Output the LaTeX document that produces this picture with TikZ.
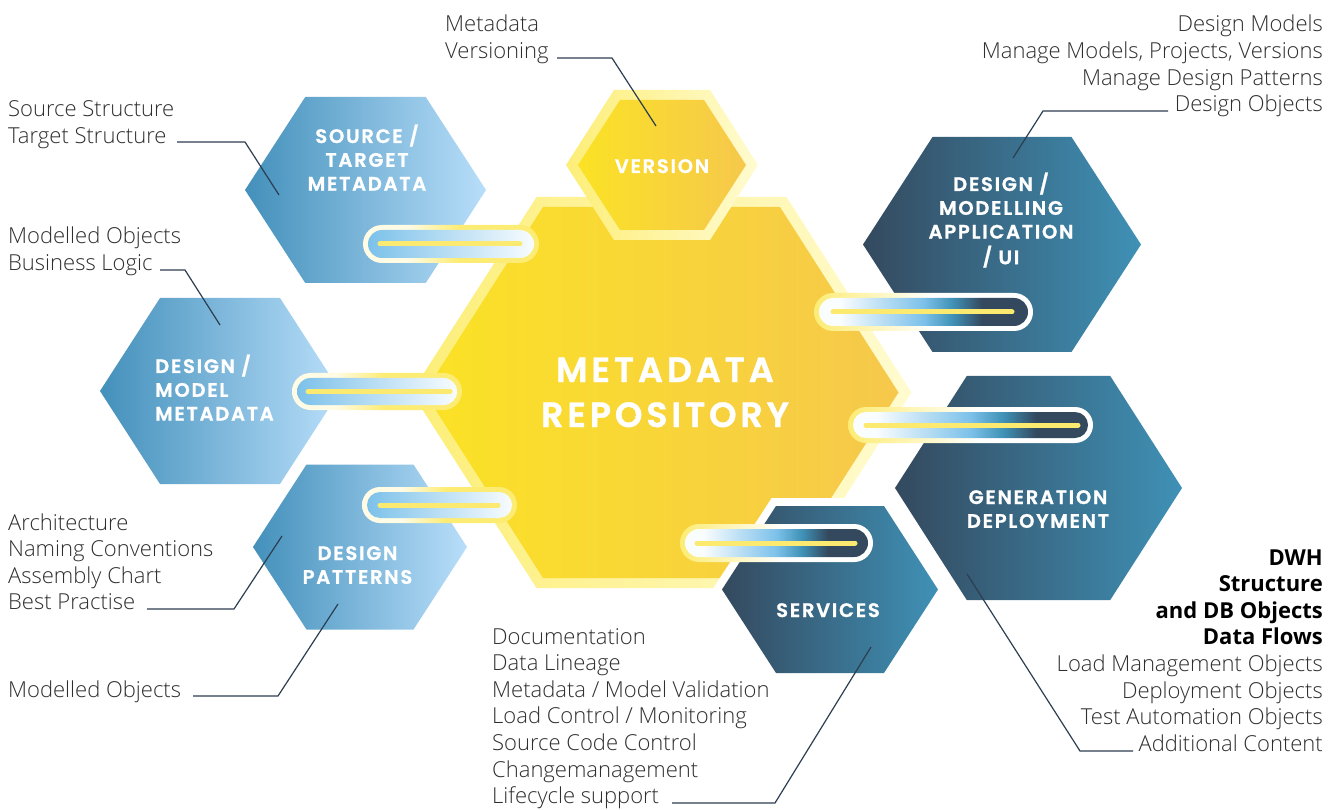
\documentclass[tikz,border=0pt]{standalone}
\usepackage{fontspec}
\IfFontExistsTF{Open Sans Light}{\setmainfont{Open Sans Light}}{\setmainfont{Open Sans}}
\newfontfamily\boldsans{Open Sans}
\IfFontExistsTF{Poppins SemiBold}{%
  \newfontfamily\hexfont{Poppins SemiBold}[LetterSpace=9, FakeBold=1.2]%
  \newfontfamily\bighexfont{Poppins SemiBold}[LetterSpace=11, FakeBold=1.2]}{%
  \newfontfamily\hexfont{Poppins}[LetterSpace=9, FakeBold=1.8]%
  \newfontfamily\bighexfont{Poppins}[LetterSpace=11, FakeBold=1.8]}
\definecolor{txtgray}{HTML}{2E2E2E}
\definecolor{leadc}{HTML}{2C3E50}
\definecolor{hexnavy}{HTML}{34495E}
\definecolor{hexteal}{HTML}{3F91B6}
\definecolor{lbdark}{HTML}{4390BB}
\definecolor{lblight}{HTML}{B8DEFA}
\definecolor{pillblue}{HTML}{7CC1EA}
\definecolor{pillline}{HTML}{FBE970}
\definecolor{ybordL}{HTML}{FDEE78}
\definecolor{ybordR}{HTML}{FFFBD0}
\definecolor{yfillL}{HTML}{FBE225}
\definecolor{yfillR}{HTML}{F6C84C}
\definecolor{cream}{HTML}{FFFBE4}
\definecolor{pyel}{HTML}{FDEC74}
\pgfdeclarehorizontalshading{pillRfill}{100bp}{color(0bp)=(white!96!pillblue); color(30bp)=(white!96!pillblue); color(50bp)=(pillblue); color(57bp)=(hexteal); color(64bp)=(hexnavy); color(100bp)=(hexnavy)}
\pgfdeclarehorizontalshading{pillRbord}{100bp}{color(0bp)=(pyel); color(25bp)=(pyel); color(52bp)=(white); color(100bp)=(white)}
\pgfdeclarehorizontalshading{pillLbord}{100bp}{color(0bp)=(cream); color(38bp)=(cream); color(52bp)=(pyel); color(100bp)=(pyel)}
\newcommand{\hexa}[4]{({#1-#3},{#2}) -- ({#1-#3/2},{#2-#4}) -- ({#1+#3/2},{#2-#4}) -- ({#1+#3},{#2}) -- ({#1+#3/2},{#2+#4}) -- ({#1-#3/2},{#2+#4}) -- cycle}
\tikzset{
  lbl/.style={font=\fontsize{22}{26.6}\selectfont, text=txtgray, inner sep=0pt},
  hexlbl/.style={font=\hexfont\fontsize{19.5}{23.8}\selectfont, text=white, inner sep=0pt},
  biglbl/.style={font=\bighexfont\fontsize{35}{45}\selectfont, text=white, inner sep=0pt},
  leader/.style={draw=leadc, line width=1.2pt},
  lightblue/.style={left color=lbdark, right color=lblight},
  darkhex/.style={left color=hexnavy, right color=hexteal},
  whitering/.style={draw=white, line width=16pt, line join=miter, fill=white},
  pilline/.style={draw=pillline, line width=5pt, line cap=round},
}
\begin{document}
\begin{tikzpicture}[x=1pt,y=-1pt]
\useasboundingbox (0,0) rectangle (1342,810);
% central hexagon
\shade[left color=ybordL, right color=ybordR] \hexa{661.5}{392.5}{250}{195.5};
\shade[left color=yfillL, right color=yfillR] \hexa{661.5}{392.5}{237}{185.5};
% version hexagon
\shade[left color=ybordL, right color=ybordR] \hexa{662}{165}{96}{75};
\shade[left color=yfillL, right color=yfillR] \hexa{662}{165}{84}{65};
% light blue hexagons
\path[whitering] \hexa{365.5}{190}{120.5}{93};
\shade[lightblue] \hexa{365.5}{190}{120.5}{93};
\path[whitering] \hexa{220}{391}{120}{93};
\shade[lightblue] \hexa{220}{391}{120}{93};
\path[whitering] \hexa{360}{547}{107}{82.5};
\shade[lightblue] \hexa{360}{547}{107}{82.5};
% dark hexagons
\path[whitering] \hexa{1002}{244.5}{139}{107.5};
\shade[darkhex] \hexa{1002}{244.5}{139}{107.5};
\path[whitering] \hexa{1038.5}{488}{143.5}{112};
\shade[darkhex] \hexa{1038.5}{488}{143.5}{112};
\path[whitering] \hexa{830}{589.5}{108}{83.5};
\shade[darkhex] \hexa{830}{589.5}{108}{83.5};
% pills left
\shade[shading=pillLbord, rounded corners=19pt] (363,225) rectangle (539,263);
\shade[left color=pillblue, right color=white!95!pillblue, rounded corners=14pt] (368,230) rectangle (534,258);
\coordinate (p1a) at (380,244); \coordinate (p1b) at (520,244);
\draw[pilline] (p1a) -- (p1b);
\shade[shading=pillLbord, rounded corners=18.5pt] (292,373) rectangle (462,410);
\shade[left color=pillblue, right color=white!95!pillblue, rounded corners=13.5pt] (297,378) rectangle (457,405);
\coordinate (p2a) at (308,391.5); \coordinate (p2b) at (450,391.5);
\draw[pilline] (p2a) -- (p2b);
\shade[shading=pillLbord, rounded corners=18pt] (362,487) rectangle (517,523);
\shade[left color=pillblue, right color=white!95!pillblue, rounded corners=13pt] (367,492) rectangle (512,518);
\coordinate (p3a) at (380,505); \coordinate (p3b) at (498,505);
\draw[pilline] (p3a) -- (p3b);
% pills right
\shade[shading=pillRbord, rounded corners=19pt] (814,293) rectangle (1033,331);
\shade[shading=pillRfill, rounded corners=14pt] (819,298) rectangle (1028,326);
\coordinate (p4a) at (833,312); \coordinate (p4b) at (1012,312);
\draw[pilline] (p4a) -- (p4b);
\shade[shading=pillRbord, rounded corners=18pt] (848,407) rectangle (1093,443);
\shade[shading=pillRfill, rounded corners=13pt] (853,412) rectangle (1088,438);
\coordinate (p5a) at (866,425); \coordinate (p5b) at (1078,425);
\draw[pilline] (p5a) -- (p5b);
\shade[shading=pillRbord, rounded corners=19pt] (680,524) rectangle (873,562);
\shade[shading=pillRfill, rounded corners=14pt] (685,529) rectangle (868,557);
\coordinate (p6a) at (697,543); \coordinate (p6b) at (855,543);
\draw[pilline] (p6a) -- (p6b);
% hexagon labels
\node[biglbl, anchor=base] (repo) at (665,382) {\begin{tabular}[t]{@{}c@{}}METADATA\\REPOSITORY\end{tabular}};
\node[hexlbl, anchor=base] (version) at (662,173) {VERSION};
\node[hexlbl, anchor=base] (srctgt) at (367,143) {\begin{tabular}[t]{@{}c@{}}SOURCE /\\TARGET\\METADATA\end{tabular}};
\node[hexlbl, anchor=base west] (dmm) at (155,373) {\begin{tabular}[t]{@{}l@{}}DESIGN /\\MODEL\\METADATA\end{tabular}};
\node[hexlbl, anchor=base] (dpat) at (357.5,560) {\begin{tabular}[t]{@{}c@{}}DESIGN\\PATTERNS\end{tabular}};
\node[hexlbl, anchor=base] (dmapp) at (1001,191) {\begin{tabular}[t]{@{}c@{}}DESIGN /\\MODELLING\\APPLICATION\\/ UI\end{tabular}};
\node[hexlbl, anchor=base] (gendep) at (1038,504) {\begin{tabular}[t]{@{}c@{}}GENERATION\\DEPLOYMENT\end{tabular}};
\node[hexlbl, anchor=base] (services) at (828,617) {SERVICES};
% text labels
\node[lbl, anchor=base west] (t1) at (8,117) {\begin{tabular}[t]{@{}l@{}}Source Structure\\Target Structure\end{tabular}};
\node[lbl, anchor=base west] (t2) at (445,32) {\begin{tabular}[t]{@{}l@{}}Metadata\\Versioning\end{tabular}};
\node[lbl, anchor=base east] (t3) at (1323,32) {\begin{tabular}[t]{@{}r@{}}Design Models\\Manage Models, Projects, Versions\\Manage Design Patterns\\Design Objects\end{tabular}};
\node[lbl, anchor=base west] (t4) at (8,244) {\begin{tabular}[t]{@{}l@{}}Modelled Objects\\Business Logic\end{tabular}};
\node[lbl, anchor=base west] (t5) at (8,530) {\begin{tabular}[t]{@{}l@{}}Architecture\\Naming Conventions\\Assembly Chart\\Best Practise\end{tabular}};
\node[lbl, anchor=base west] (t6) at (8,697) {Modelled Objects};
\node[lbl, anchor=base west] (t7) at (492,644) {\begin{tabular}[t]{@{}l@{}}Documentation\\Data Lineage\\Metadata / Model Validation\\Load Control / Monitoring\\Source Code Control\\Changemanagement\\Lifecycle support\end{tabular}};
\node[lbl, anchor=base east] (t8) at (1323,565) {\begin{tabular}[t]{@{}r@{}}{\boldsans\bfseries\color{black} DWH}\\{\boldsans\bfseries\color{black} Structure}\\{\boldsans\bfseries\color{black} and DB Objects}\\{\boldsans\bfseries\color{black} Data Flows}\\Load Management Objects\\Deployment Objects\\Test Automation Objects\\Additional Content\end{tabular}};
% leader lines
\coordinate (a1) at (177,142); \coordinate (b1) at (245,142); \coordinate (c1) at (279,195);
\coordinate (a2) at (557,58); \coordinate (b2) at (612,58); \coordinate (c2) at (656,126);
\coordinate (a3) at (1168,111); \coordinate (b3) at (1043,111); \coordinate (c3) at (1013,158);
\coordinate (a4) at (160,270); \coordinate (b4) at (185,270); \coordinate (c4) at (220,325);
\coordinate (a5) at (147,609); \coordinate (b5) at (234,609); \coordinate (c5) at (282,536);
\coordinate (a6) at (193,696); \coordinate (b6) at (278,696); \coordinate (c6) at (338,604);
\coordinate (a7) at (672,803); \coordinate (b7) at (775,803); \coordinate (c7) at (871,647);
\coordinate (a8) at (1133,751); \coordinate (b8) at (1080,751); \coordinate (c8) at (967,574);
\foreach \i in {1,...,8} {\draw[leader] (a\i) -- (b\i) -- (c\i);}
\end{tikzpicture}
\end{document}
